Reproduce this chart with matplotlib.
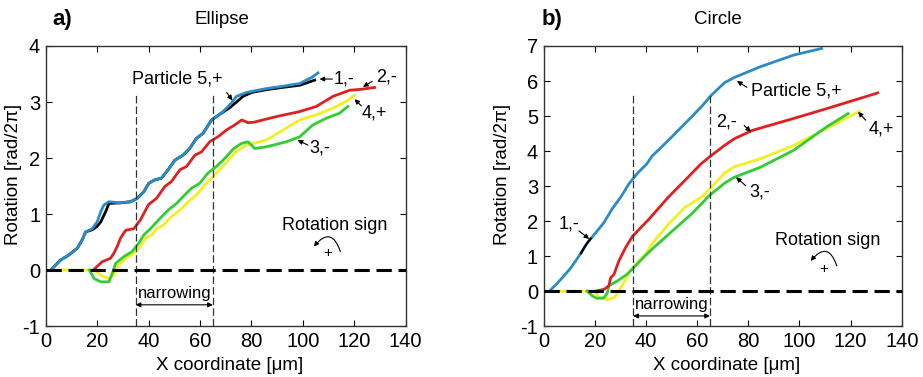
import matplotlib.pyplot as plt
import numpy as np

plt.rcParams['font.family'] = ['Liberation Sans', 'DejaVu Sans']
plt.rcParams['axes.unicode_minus'] = False

# ---- Ellipse panel (a) ----
ell_blue_x = [2.6, 5.8, 9, 12.3, 14.2, 15.5, 18.1, 20, 21.4, 22.6, 24.6, 29.1, 33, 35.6, 38.2, 40.1,
              42.4, 45, 47.6, 50.2, 53.4, 56, 58.6, 61.2, 64.5, 68.3, 71.6, 74.2, 78.1, 85.8, 92,
              98.8, 103.9, 105.9]
ell_blue_y = [0.03, 0.18, 0.27, 0.39, 0.54, 0.68, 0.74, 0.86, 1.04, 1.16, 1.22, 1.2, 1.22, 1.28, 1.4, 1.55,
              1.61, 1.64, 1.79, 1.96, 2.05, 2.17, 2.35, 2.44, 2.68, 2.8, 2.95, 3.1, 3.17, 3.24, 3.28,
              3.33, 3.45, 3.52]
ell_black_x = [2.6, 5.8, 9, 12.3, 14.2, 15.5, 18.1, 20, 21.4, 23.3, 24.6, 29.1, 33, 35.6, 38.2, 40.1,
               42.4, 45, 47.6, 50.2, 53.4, 56, 58.6, 61.2, 64.5, 68.3, 71.6, 74.2, 76.7, 80, 85.8, 92,
               98.8, 104.6]
ell_black_y = [0.03, 0.18, 0.27, 0.39, 0.54, 0.68, 0.72, 0.78, 0.86, 1.04, 1.19, 1.2, 1.22, 1.28, 1.4, 1.55,
               1.61, 1.64, 1.79, 1.96, 2.05, 2.17, 2.35, 2.44, 2.68, 2.8, 2.9, 3.0, 3.1, 3.17, 3.22, 3.26,
               3.3, 3.39]
ell_red_x = [18.5, 22, 25.2, 26.5, 27.8, 29.1, 31.1, 34.3, 36.9, 40, 43.1, 46.3, 48.9, 52.2, 54.8, 58,
             60.6, 63.8, 67, 70.3, 73.5, 76.3, 78.7, 81, 89.7, 98.8, 105.2, 111.7, 118.2, 123.3, 127.9]
ell_red_y = [0, 0.15, 0.21, 0.3, 0.42, 0.57, 0.71, 0.74, 0.9, 1.17, 1.28, 1.49, 1.58, 1.79, 1.85, 2.05,
             2.11, 2.29, 2.38, 2.5, 2.59, 2.68, 2.63, 2.64, 2.74, 2.83, 2.92, 3.1, 3.21, 3.23, 3.26]
ell_green_x = [17, 18.8, 21.4, 24.6, 25.9, 27.2, 30.4, 33.6, 36.2, 38.2, 40.8, 44.4, 47.6, 50.9, 53.4,
               56.7, 59.9, 63.1, 66.4, 69.6, 72.9, 76.1, 78.7, 81.3, 85.8, 93.6, 98.8, 103.9, 109.1,
               114.3, 117.5]
ell_green_y = [0, -0.15, -0.21, -0.21, -0.06, 0.12, 0.24, 0.33, 0.48, 0.63, 0.74, 0.92, 1.07, 1.19, 1.31,
               1.46, 1.55, 1.73, 1.85, 1.99, 2.16, 2.26, 2.29, 2.17, 2.2, 2.29, 2.38, 2.59, 2.71,
               2.8, 2.92]
ell_yellow_x = [4, 19, 21.4, 24.6, 26.5, 28.5, 31.1, 34.3, 36.9, 38.8, 41.4, 43.1, 45.7, 48.9, 52.2,
                55.4, 58.6, 61.9, 65.1, 68.3, 71.6, 74.8, 78, 85.8, 92.3, 98.8, 105.2, 111.7, 116.9,
                120.1]
ell_yellow_y = [0, 0, -0.09, -0.15, -0.09, 0.09, 0.21, 0.3, 0.42, 0.57, 0.63, 0.74, 0.8, 0.95, 1.07,
                1.22, 1.34, 1.52, 1.67, 1.82, 1.99, 2.14, 2.23, 2.32, 2.5, 2.68, 2.77, 2.89, 3.01,
                3.12]

# ---- Circle panel (b) ----
circ_blue_x = [2.3, 6.8, 10.7, 13.9, 17.2, 20.4, 23.6, 26.8, 30.3, 33.3, 36.5, 40.4, 42.3, 48.7, 55.2,
               61.6, 65.5, 70.7, 74.5, 84.8, 97.7, 108.7]
circ_blue_y = [0, 0.34, 0.67, 1.01, 1.39, 1.67, 1.96, 2.35, 2.7, 3.06, 3.35, 3.64, 3.85, 4.3, 4.78,
               5.26, 5.59, 5.95, 6.1, 6.41, 6.74, 6.93]
circ_black_x = [14.6, 16.5, 18.4]
circ_black_y = [1.08, 1.32, 1.5]
circ_red_x = [20.4, 23.6, 25.5, 26.2, 27.5, 29.4, 32, 34.6, 37.8, 41, 48.7, 55.2, 61.6, 65.5, 70.7,
              74.5, 81.6, 97.7, 110.6, 123.5, 130.6]
circ_red_y = [0, 0.05, 0.15, 0.38, 0.48, 0.86, 1.24, 1.55, 1.8, 2.04, 2.68, 3.16, 3.64, 3.87, 4.16,
              4.35, 4.59, 4.93, 5.21, 5.5, 5.66]
circ_green_x = [17, 19.1, 21, 23.6, 24.9, 25.5, 28.8, 32.6, 36.5, 40.4, 43.6, 51.3, 57.8, 64.8, 70.7,
                74.5, 84.8, 97.7, 110.6, 119]
circ_green_y = [0, -0.14, -0.21, -0.19, -0.05, 0.15, 0.29, 0.48, 0.77, 1.06, 1.28, 1.78, 2.2, 2.73, 3.08,
                3.25, 3.54, 4.02, 4.69, 5.07]
circ_yellow_x = [5, 20, 21.7, 24.9, 27.5, 29.4, 31.3, 33.9, 36.5, 40.4, 42.3, 48.7, 55.2, 61.6, 65.5,
                 70.7, 74.5, 84.8, 97.7, 110.6, 123.5]
circ_yellow_y = [0, 0, -0.19, -0.24, -0.19, 0, 0.24, 0.58, 0.81, 1.1, 1.35, 1.9, 2.39, 2.68, 2.96,
                 3.37, 3.55, 3.78, 4.16, 4.64, 5.14]

BLUE = '#2a8cc4'
RED = '#e02020'
GREEN = '#33cc33'
YELLOW = '#f2f022'

fig = plt.figure(figsize=(9.23, 3.77), dpi=100)
ax1 = fig.add_axes([0.0495, 0.135, 0.390, 0.743])
ax2 = fig.add_axes([0.589, 0.135, 0.388, 0.743])


def arrow(ax, tail, tip):
    ax.annotate('', xy=tip, xytext=tail,
                arrowprops=dict(arrowstyle='-|>', color='k', lw=0.8, mutation_scale=7,
                                shrinkA=0, shrinkB=0))


def setup(ax, ylim, yticks, top_dash):
    ax.set_xlim(0, 140)
    ax.set_ylim(*ylim)
    ax.set_xticks(np.arange(0, 141, 20))
    ax.set_yticks(yticks)
    ax.tick_params(direction='in', top=True, right=True, labelsize=14.5, length=4, pad=4)
    for s in ax.spines.values():
        s.set_linewidth(1.0)
        s.set_color('#333333')
    ax.set_xlabel('X coordinate [\u03bcm]', fontsize=13.5)
    ax.set_ylabel('Rotation [rad/2\u03c0]', fontsize=13.5)
    ax.axhline(0, color='k', lw=2.2, dashes=(5, 2.2), zorder=10)
    for xv in (35, 65):
        ax.plot([xv, xv], [ylim[0], top_dash], color='#333333', lw=0.9, dashes=(6, 2.5), zorder=9)


setup(ax1, (-1, 4), np.arange(-1, 5, 1), 3.15)
setup(ax2, (-1, 7), np.arange(-1, 8, 1), 5.62)
ax1.yaxis.set_label_coords(-0.066, 0.54)
ax2.yaxis.set_label_coords(-0.09, 0.54)
ax1.xaxis.set_label_coords(0.51, -0.112)
ax2.xaxis.set_label_coords(0.51, -0.112)

lw = 2.0
ax1.plot(ell_yellow_x, ell_yellow_y, color=YELLOW, lw=lw)
ax1.plot(ell_green_x, ell_green_y, color=GREEN, lw=lw)
ax1.plot(ell_red_x, ell_red_y, color=RED, lw=lw)
ax1.plot(ell_black_x, ell_black_y, color='k', lw=lw)
ax1.plot(ell_blue_x, ell_blue_y, color=BLUE, lw=lw)

ax2.plot(circ_yellow_x, circ_yellow_y, color=YELLOW, lw=lw)
ax2.plot(circ_green_x, circ_green_y, color=GREEN, lw=lw)
ax2.plot(circ_red_x, circ_red_y, color=RED, lw=lw)
ax2.plot(circ_blue_x, circ_blue_y, color=BLUE, lw=lw)
ax2.plot(circ_black_x, circ_black_y, color='k', lw=1.6)

fs = 13
# panel a annotations
ax1.text(51, 3.41, 'Particle 5,+', fontsize=fs, ha='center', va='center')
arrow(ax1, (70.4, 3.17), (72.6, 3.03))
ax1.text(112, 3.41, '1,-', fontsize=fs, ha='left', va='center')
arrow(ax1, (111.5, 3.41), (106.5, 3.41))
ax1.text(128.7, 3.45, '2,-', fontsize=fs, ha='left', va='center')
arrow(ax1, (127, 3.37), (123.4, 3.27))
ax1.text(123, 2.8, '4,+', fontsize=fs, ha='left', va='center')
arrow(ax1, (122.8, 2.93), (120.1, 3.05))
ax1.text(102.7, 2.18, '3,-', fontsize=fs, ha='left', va='center')
arrow(ax1, (102, 2.23), (98, 2.32))
ax1.text(112.3, 0.79, 'Rotation sign', fontsize=fs, ha='center', va='center')
ax1.text(109.6, 0.3, '+', fontsize=11, ha='center', va='center')
ax1.annotate('', xy=(104.3, 0.42), xytext=(114.6, 0.33),
             arrowprops=dict(arrowstyle='-|>', color='k', lw=0.8, mutation_scale=7,
                             shrinkA=0, shrinkB=0, connectionstyle='arc3,rad=0.9'))
ax1.text(50, -0.41, 'narrowing', fontsize=12, ha='center', va='center')
ax1.annotate('', xy=(35, -0.62), xytext=(65, -0.62),
             arrowprops=dict(arrowstyle='<|-|>', color='k', lw=0.8, mutation_scale=7,
                             shrinkA=0, shrinkB=0))

# panel b annotations
ax2.text(81.1, 5.71, 'Particle 5,+', fontsize=fs, ha='left', va='center')
arrow(ax2, (79.4, 5.82), (75.6, 6.0))
ax2.text(67.5, 4.82, '2,-', fontsize=fs, ha='left', va='center')
arrow(ax2, (78.4, 4.73), (81, 4.55))
ax2.text(127, 4.64, '4,+', fontsize=fs, ha='left', va='center')
arrow(ax2, (125.9, 4.88), (122.9, 5.12))
ax2.text(80.3, 2.82, '3,-', fontsize=fs, ha='left', va='center')
arrow(ax2, (79, 3.01), (75.2, 3.25))
ax2.text(5.8, 1.92, '1,-', fontsize=fs, ha='left', va='center')
arrow(ax2, (13.8, 1.72), (17.8, 1.49))
ax2.text(111.2, 1.44, 'Rotation sign', fontsize=fs, ha='center', va='center')
ax2.text(109.3, 0.64, '+', fontsize=11, ha='center', va='center')
ax2.annotate('', xy=(104.4, 0.86), xytext=(114.6, 0.72),
             arrowprops=dict(arrowstyle='-|>', color='k', lw=0.8, mutation_scale=7,
                             shrinkA=0, shrinkB=0, connectionstyle='arc3,rad=0.9'))
ax2.text(50, -0.37, 'narrowing', fontsize=12, ha='center', va='center')
ax2.annotate('', xy=(35, -0.71), xytext=(65, -0.71),
             arrowprops=dict(arrowstyle='<|-|>', color='k', lw=0.8, mutation_scale=7,
                             shrinkA=0, shrinkB=0))

# panel titles
ax1.text(0.045, 1.093, 'a)', transform=ax1.transAxes, fontsize=16, fontweight='bold',
         ha='center', va='center')
ax1.text(0.49, 1.093, 'Ellipse', transform=ax1.transAxes, fontsize=13.5, ha='center', va='center')
ax2.text(0.024, 1.093, 'b)', transform=ax2.transAxes, fontsize=16, fontweight='bold',
         ha='center', va='center')
ax2.text(0.487, 1.093, 'Circle', transform=ax2.transAxes, fontsize=13.5, ha='center', va='center')

fig.savefig('out.png', dpi=100)
